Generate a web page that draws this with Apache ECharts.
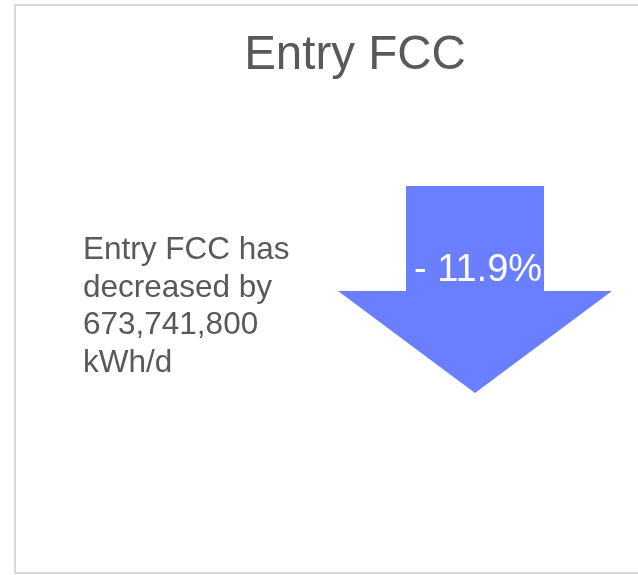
<!DOCTYPE html>
<html>
<head>
<meta charset="utf-8">
<script src="https://cdn.jsdelivr.net/npm/echarts@6/dist/echarts.min.js"></script>
<style>
  html, body { margin: 0; padding: 0; background: #fff; }
  #main { width: 638px; height: 575px; }
</style>
</head>
<body>
<div id="main"></div>
<script>
// kpi values
var titleText = 'Entry FCC'
var changePct = [-11.9]
var changeAbs = [673741800]
var unitText = ['kWh/d']

var textColor = '#595959'
var arrowColor = '#6a7fff'

function fmtNum(v) {
  return Math.abs(v).toString().replace(/\B(?=(\d{3})+(?!\d))/g, ',')
}

var pct = changePct[0]
var pctLabel = (pct < 0 ? '- ' : '+ ') + Math.abs(pct).toFixed(1) + '%'
var descLines = [
  titleText + ' has',
  (pct < 0 ? 'decreased' : 'increased') + ' by',
  fmtNum(changeAbs[0]),
  unitText[0]
]

var chart = echarts.init(document.getElementById('main'), null, { renderer: 'canvas' })
chart.setOption({
  backgroundColor: '#fff',
  animation: false,
  title: {
    text: titleText,
    left: 350,
    top: 27,
    textAlign: 'center',
    textStyle: {
      fontFamily: 'Liberation Sans, Arial, sans-serif',
      fontSize: 47.5,
      fontWeight: 'normal',
      color: textColor
    }
  },
  graphic: [
    {
      // card border (right edge runs off the page)
      type: 'rect',
      shape: { x: 15, y: 5, width: 700, height: 568 },
      style: { fill: 'none', stroke: '#d9d9d9', lineWidth: 2 },
      z: 1
    },
    {
      type: 'polygon',
      shape: {
        points: [[406, 186], [544, 186], [544, 291], [612, 291], [475, 393], [338, 291], [406, 291]]
      },
      style: { fill: arrowColor },
      z: 2
    },
    {
      type: 'text',
      x: 478,
      y: 271,
      style: {
        text: pctLabel,
        fill: '#fff',
        fontFamily: 'Liberation Sans, Arial, sans-serif',
        fontSize: 38,
        align: 'center',
        verticalAlign: 'middle'
      },
      z: 3
    },
    {
      type: 'text',
      x: 83,
      y: 232,
      style: {
        text: descLines.join('\n'),
        fill: textColor,
        fontFamily: 'Liberation Sans, Arial, sans-serif',
        fontSize: 31.5,
        lineHeight: 37.5,
        align: 'left',
        verticalAlign: 'top'
      },
      z: 3
    }
  ]
})
</script>
</body>
</html>
